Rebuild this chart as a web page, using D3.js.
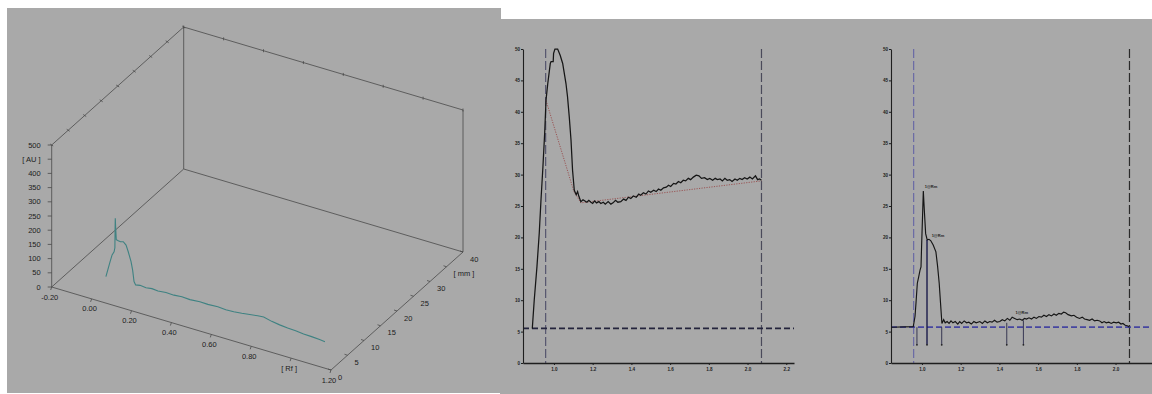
<!DOCTYPE html>
<html>
<head>
<meta charset="utf-8">
<script src="https://cdn.jsdelivr.net/npm/d3@7"></script>
<style>
  body { margin: 0; background: #fff; }
  svg { display: block; font-family: "Liberation Sans", Arial, sans-serif; }
</style>
</head>
<body>
<div id="chart"></div>
<script>
// ---- 3D panel data (track at 5 mm) ----
var rfTicks = [-0.2, 0, 0.2, 0.4, 0.6, 0.8, 1.0, 1.2];
var rfLabels = ["-0.20", "0.00", "0.20", "0.40", "0.60", "0.80", "[ Rf ]", "1.20"];
var mmTicks = [0, 5, 10, 15, 20, 25, 30, 35, 40];
var mmLabels = ["0", "5", "10", "15", "20", "25", "30", "[ mm ]", "40"];
var auTicks = [0, 50, 100, 150, 200, 250, 300, 350, 400, 450, 500];
var auLabels = ["0", "50", "100", "150", "200", "250", "300", "350", "400", "[ AU ]", "500"];
var trackMm = 5;
var traceRf = [-0.011, 0.010, 0.020, 0.030, 0.034, 0.035, 0.036, 0.038, 0.041, 0.051, 0.062, 0.076, 0.090, 0.101, 0.115, 0.123, 0.130, 0.138,
  0.16, 0.19, 0.22, 0.25, 0.29, 0.33, 0.37, 0.41, 0.46, 0.50, 0.55, 0.59, 0.63, 0.67, 0.71, 0.75, 0.78, 0.82, 0.86, 0.90, 0.94, 0.98, 1.02, 1.06, 1.087];
var traceAu = [24, 81, 107, 120, 135, 200, 239, 205, 165, 163, 162, 165, 156, 135, 103, 75, 36, 26,
  29, 27, 30, 28, 31, 30, 33, 31, 34, 33, 35, 33, 34, 37, 41, 45, 47, 40, 36, 33, 32, 29, 28, 26, 24];

// ---- chromatogram panels ----
var yTicks = [0, 5, 10, 15, 20, 25, 30, 35, 40, 45, 50];
var xTicks = [1.0, 1.2, 1.4, 1.6, 1.8, 2.0, 2.2];
var xTickLabels = ["1.0", "1.2", "1.4", "1.6", "1.8", "2.0", "2.2"];
var frontX = 0.957, endX = 2.072;

var p2X = [0.888, 0.898, 0.912, 0.924, 0.933, 0.943, 0.952, 0.959, 0.968, 0.981, 0.985, 0.996, 0.998, 1.005, 1.019, 1.032, 1.045, 1.062, 1.070, 1.079, 1.088, 1.096, 1.105, 1.115, 1.122, 1.129, 1.139,
  1.150, 1.160, 1.170, 1.180, 1.191, 1.200, 1.210, 1.220, 1.232, 1.242, 1.255, 1.265, 1.280, 1.294, 1.305, 1.318, 1.330, 1.345, 1.360, 1.372, 1.385, 1.397, 1.410, 1.425, 1.438, 1.448, 1.462, 1.475, 1.488, 1.500,
  1.515, 1.528, 1.540, 1.552, 1.566, 1.580, 1.592, 1.603, 1.618, 1.630, 1.643, 1.655, 1.668, 1.680, 1.694, 1.706, 1.720, 1.735, 1.749, 1.762, 1.778, 1.792, 1.805, 1.820, 1.833, 1.844, 1.858, 1.870, 1.883, 1.895,
  1.908, 1.920, 1.935, 1.947, 1.960, 1.972, 1.985, 1.998, 2.012, 2.025, 2.041, 2.052, 2.062, 2.072];
var p2Y = [5.5, 10, 15.3, 20.7, 26, 31.3, 36.6, 41.9, 44.5, 47.7, 48, 48, 49.3, 50, 50, 49, 47.7, 44.5, 42.4, 39.2, 35.5, 30.7, 27.5, 26.8, 27.3, 26.5, 25.7,
  26.0, 25.8, 25.6, 25.9, 25.6, 25.4, 25.8, 25.5, 25.7, 25.4, 25.6, 25.3, 25.7, 25.3, 25.5, 25.9, 25.6, 25.7, 26.1, 25.9, 26.4, 26.2, 26.6, 26.4, 26.9, 26.7, 27.1, 26.9, 27.4, 27.2,
  27.5, 27.3, 27.7, 27.5, 27.9, 28.0, 28.3, 28.1, 28.6, 28.5, 28.9, 28.7, 29.1, 29.0, 29.4, 29.2, 29.6, 29.9, 29.8, 29.4, 29.5, 29.2, 29.4, 29.1, 29.4, 29.2, 29.3, 29.0, 29.4, 29.1,
  29.2, 28.9, 29.3, 29.1, 29.4, 29.2, 29.5, 29.3, 29.6, 29.3, 29.8, 29.2, 29.3, 29.1];
var p2BaseX = [0.959, 1.103, 1.139, 2.072];
var p2BaseY = [41.8, 27.3, 25.5, 29.0];
var p2Threshold = 5.5;

var p3X = [0.84, 0.955, 0.964, 0.969, 0.976, 0.983, 0.990, 0.995, 0.998, 1.004, 1.007, 1.012, 1.019, 1.027, 1.036, 1.045, 1.058, 1.072, 1.081, 1.089, 1.096, 1.103,
  1.112, 1.120, 1.130, 1.140, 1.150, 1.160, 1.172, 1.185, 1.195, 1.205, 1.218, 1.230, 1.242, 1.255, 1.268, 1.280, 1.299, 1.312, 1.325, 1.338, 1.350, 1.362, 1.375, 1.388, 1.402,
  1.415, 1.428, 1.441, 1.454, 1.466, 1.479, 1.492, 1.505, 1.518, 1.530, 1.540, 1.553, 1.566, 1.579, 1.591, 1.604, 1.617, 1.630, 1.643, 1.656, 1.669, 1.682, 1.694, 1.707, 1.720,
  1.732, 1.742, 1.755, 1.772, 1.785, 1.799, 1.814, 1.828, 1.840, 1.853, 1.866, 1.879, 1.892, 1.905, 1.918, 1.930, 1.941, 1.952, 1.965, 1.978, 1.990, 2.004, 2.016, 2.028, 2.038, 2.050, 2.064, 2.072];
var p3Y = [5.7, 5.8, 7.4, 9.5, 12.7, 13.7, 14.8, 15.3, 18.5, 24.4, 27.4, 24.4, 20.6, 19.6, 19.7, 19.5, 18.8, 17.7, 15.3, 12.7, 9.5, 6.3,
  6.9, 6.4, 6.6, 6.3, 6.7, 6.4, 6.6, 6.2, 6.6, 6.3, 6.7, 6.4, 6.5, 6.2, 6.6, 6.4, 6.6, 6.3, 6.7, 6.4, 6.6, 6.5, 6.8, 6.5, 6.6,
  6.9, 6.7, 7.1, 6.8, 7.3, 7.1, 6.9, 7.0, 6.8, 7.1, 7.0, 7.2, 7.0, 7.3, 7.1, 7.4, 7.3, 7.6, 7.4, 7.7, 7.5, 7.8, 7.6, 7.9, 7.8,
  8.1, 8.0, 7.7, 7.5, 7.6, 7.3, 7.1, 7.3, 7.0, 6.9, 6.8, 7.0, 6.7, 6.8, 6.7, 6.4, 6.6, 6.4, 6.5, 6.3, 6.5, 6.4, 6.5, 6.2, 6.3, 6.0, 5.9, 5.7];
var p3Threshold = 5.7;
var markX = [0.974, 1.026, 1.102, 1.438, 1.524];
var markTop = [5.7, 19.6, 5.7, 6.4, 6.8];
var markBottom = 2.9;
var peakLabelX = [1.014, 1.050, 1.483];
var peakLabelY = [27.9, 20.1, 7.8];
var peakLabel = "1@Rm";

var W = 1152, H = 394;
var svg = d3.select("#chart").append("svg").attr("width", W).attr("height", H);

svg.append("rect").attr("x", 7).attr("y", 8).attr("width", 494).attr("height", 385).attr("fill", "#a9a9a9");
svg.append("rect").attr("x", 500).attr("y", 19).attr("width", 652).attr("height", 375).attr("fill", "#a9a9a9");

// ===== 3D panel =====
var O = [51.7, 287], RF = [279.3, 83], MM = [132, -118], AUH = 142;
var rfS = d3.scaleLinear().domain([-0.2, 1.2]).range([0, 1]);
var mmS = d3.scaleLinear().domain([0, 40]).range([0, 1]);
var auS = d3.scaleLinear().domain([0, 500]).range([0, AUH]);
function proj(rf, mm, au) {
  var a = rfS(rf), b = mmS(mm);
  return [O[0] + a * RF[0] + b * MM[0], O[1] + a * RF[1] + b * MM[1] - auS(au)];
}
var g3 = svg.append("g");
var edges = [
  [[-0.2, 0, 0], [-0.2, 0, 500]],
  [[-0.2, 0, 0], [1.2, 0, 0]],
  [[1.2, 0, 0], [1.2, 40, 0]],
  [[-0.2, 0, 0], [-0.2, 40, 0]],
  [[-0.2, 40, 0], [1.2, 40, 0]],
  [[-0.2, 40, 0], [-0.2, 40, 500]],
  [[1.2, 40, 0], [1.2, 40, 500]],
  [[-0.2, 0, 500], [-0.2, 40, 500]],
  [[-0.2, 40, 500], [1.2, 40, 500]]
];
g3.selectAll("line.edge").data(edges).enter().append("line")
  .attr("class", "edge")
  .attr("x1", function(d) { return proj.apply(null, d[0])[0]; })
  .attr("y1", function(d) { return proj.apply(null, d[0])[1]; })
  .attr("x2", function(d) { return proj.apply(null, d[1])[0]; })
  .attr("y2", function(d) { return proj.apply(null, d[1])[1]; })
  .attr("stroke", "#4a4a4a").attr("stroke-width", 0.8);

var lab = { fill: "#1c1c1c", size: "7.5px" };
// AU axis
auTicks.forEach(function(v, i) {
  var p = proj(-0.2, 0, v);
  g3.append("line").attr("x1", p[0] - 4).attr("x2", p[0]).attr("y1", p[1]).attr("y2", p[1]).attr("stroke", "#4a4a4a").attr("stroke-width", 0.8);
  g3.append("text").attr("x", p[0] - 11).attr("y", p[1] + 2.6).attr("text-anchor", "end")
    .attr("font-size", lab.size).attr("fill", lab.fill).text(auLabels[i]);
});
// Rf axis + top-back edge ticks
rfTicks.forEach(function(v, i) {
  var p = proj(v, 0, 0);
  g3.append("line").attr("x1", p[0]).attr("x2", p[0] - 1).attr("y1", p[1]).attr("y2", p[1] + 3).attr("stroke", "#4a4a4a").attr("stroke-width", 0.8);
  g3.append("text").attr("x", p[0] - 2).attr("y", p[1] + 12.5).attr("text-anchor", "middle")
    .attr("font-size", lab.size).attr("fill", lab.fill).text(rfLabels[i]);
  var q = proj(v, 40, 500);
  g3.append("line").attr("x1", q[0]).attr("x2", q[0]).attr("y1", q[1] - 1.5).attr("y2", q[1] + 1.5).attr("stroke", "#4a4a4a").attr("stroke-width", 0.8);
});
// mm axis + top-left edge ticks
mmTicks.forEach(function(v, i) {
  var p = proj(1.2, v, 0);
  g3.append("line").attr("x1", p[0]).attr("x2", p[0] - 3).attr("y1", p[1]).attr("y2", p[1] - 1).attr("stroke", "#4a4a4a").attr("stroke-width", 0.8);
  g3.append("text").attr("x", p[0] + 7).attr("y", p[1] + 9.5).attr("text-anchor", "start")
    .attr("font-size", lab.size).attr("fill", lab.fill).text(mmLabels[i]);
  var q = proj(-0.2, v, 500);
  g3.append("line").attr("x1", q[0] - 1.5).attr("x2", q[0] + 1.5).attr("y1", q[1] - 1).attr("y2", q[1] + 1).attr("stroke", "#4a4a4a").attr("stroke-width", 0.8);
});
var trace = traceRf.map(function(r, i) { return proj(r, trackMm, traceAu[i]); });
g3.append("path").attr("d", d3.line()(trace)).attr("fill", "none")
  .attr("stroke", "#3f8282").attr("stroke-width", 1.1);

// ===== chromatogram panels =====
var ys = d3.scaleLinear().domain([0, 50]).range([363, 49]);

function panel(x0, xs, opt) {
  var g = svg.append("g");
  // vertical front/end lines
  g.append("line").attr("x1", xs(frontX)).attr("x2", xs(frontX)).attr("y1", ys(50)).attr("y2", ys(0))
    .attr("stroke", opt.frontColor).attr("stroke-width", 1.2).attr("stroke-dasharray", "9,3");
  g.append("line").attr("x1", xs(endX)).attr("x2", xs(endX)).attr("y1", ys(50)).attr("y2", ys(0))
    .attr("stroke", opt.endColor).attr("stroke-width", 1.2).attr("stroke-dasharray", "9,3");
  // threshold dashed
  g.append("line").attr("x1", xs.range()[0]).attr("x2", opt.threshEnd).attr("y1", ys(opt.thresh)).attr("y2", ys(opt.thresh))
    .attr("stroke", opt.threshColor).attr("stroke-width", 1.7).attr("stroke-dasharray", "6,3");

  var ya = g.append("g").attr("transform", "translate(" + x0 + ",0)")
    .call(d3.axisLeft(ys).tickValues(yTicks).tickSize(2).tickSizeOuter(0).tickFormat(d3.format("d")));
  ya.select(".domain").attr("stroke", "#1e1e1e").attr("stroke-width", 1.1);
  ya.selectAll(".tick line").attr("stroke", "#1e1e1e");
  ya.selectAll(".tick text").attr("font-size", "4.6px").attr("font-weight", "bold").attr("fill", "#222").attr("x", -3);

  var shown = xTicks.filter(function(t) { return xs(t) < opt.threshEnd - 4; });
  var xa = g.append("g").attr("transform", "translate(0," + ys(0) + ")")
    .call(d3.axisBottom(xs).tickValues(shown).tickSize(2).tickSizeOuter(0)
      .tickFormat(function(d) { return xTickLabels[xTicks.indexOf(d)]; }));
  xa.select(".domain").attr("stroke", "#1e1e1e").attr("stroke-width", 1.6);
  xa.selectAll(".tick line").attr("stroke", "#1e1e1e");
  xa.selectAll(".tick text").attr("font-size", "4.6px").attr("font-weight", "bold").attr("fill", "#222").attr("y", 5);
  return g;
}

var xs2 = d3.scaleLinear().domain([0.84, 2.24]).range([523, 794]);
var g2 = panel(523, xs2, { frontColor: "#55556e", endColor: "#4a4a5a", thresh: p2Threshold, threshColor: "#24243c", threshEnd: 794 });
var line2 = d3.line().x(function(d) { return xs2(d[0]); }).y(function(d) { return ys(d[1]); });
g2.append("path").attr("d", line2(p2BaseX.map(function(x, i) { return [x, p2BaseY[i]]; })))
  .attr("fill", "none").attr("stroke", "#9a5555").attr("stroke-width", 1).attr("stroke-dasharray", "1.2,1.3");
g2.append("path").attr("d", line2(p2X.map(function(x, i) { return [x, p2Y[i]]; })))
  .attr("fill", "none").attr("stroke", "#151515").attr("stroke-width", 1.25);

var xs3 = d3.scaleLinear().domain([0.84, 2.24]).range([891, 1162]);
var g3p = panel(891, xs3, { frontColor: "#6a6aa6", endColor: "#2a2a2a", thresh: p3Threshold, threshColor: "#4646a0", threshEnd: 1152 });
var line3 = d3.line().x(function(d) { return xs3(d[0]); }).y(function(d) { return ys(d[1]); });
g3p.append("path").attr("d", line3(p3X.map(function(x, i) { return [x, p3Y[i]]; })))
  .attr("fill", "none").attr("stroke", "#151515").attr("stroke-width", 1.15);
markX.forEach(function(x, i) {
  g3p.append("line").attr("x1", xs3(x)).attr("x2", xs3(x)).attr("y1", ys(markTop[i])).attr("y2", ys(markBottom))
    .attr("stroke", i === 1 ? "#1a1a4a" : "#2a2a48").attr("stroke-width", i === 1 ? 1.4 : 0.9);
  g3p.append("circle").attr("cx", xs3(x)).attr("cy", ys(markBottom)).attr("r", 0.9).attr("fill", "#222");
});
peakLabelX.forEach(function(x, i) {
  g3p.append("text").attr("x", xs3(x)).attr("y", ys(peakLabelY[i])).attr("font-size", "4px").attr("font-weight", "bold")
    .attr("fill", "#222").text(peakLabel);
});
</script>
</body>
</html>
